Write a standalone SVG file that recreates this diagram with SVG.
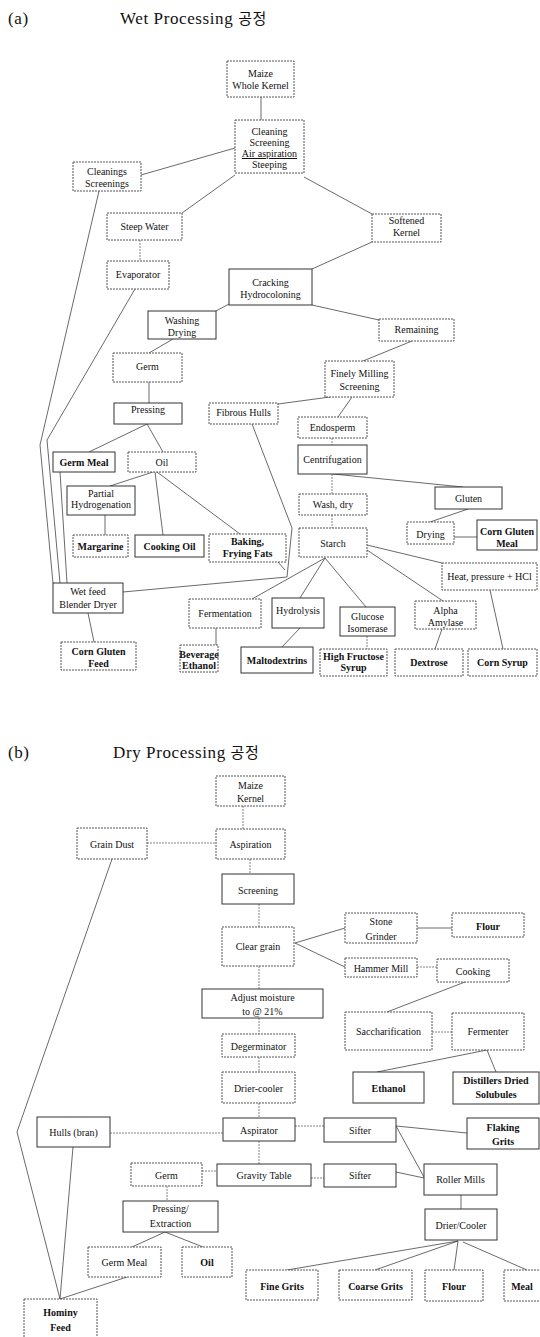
<svg xmlns="http://www.w3.org/2000/svg" width="540" height="1337" viewBox="0 0 540 1337">
<style>
.bx{fill:#fff;stroke:#555;stroke-width:1;stroke-dasharray:2 1}
.bs{fill:#fff;stroke:#333;stroke-width:1}
.t{font-family:"Liberation Serif","Times New Roman",serif;font-size:10px;fill:#111;text-anchor:middle}
.b{font-weight:bold}
.ttl{font-family:"Liberation Serif","Noto Sans CJK KR",serif;font-size:17px;fill:#111;letter-spacing:0.6px}
.ln{stroke:#444;stroke-width:0.8;fill:none}
.ld{stroke:#666;stroke-width:0.8;fill:none;stroke-dasharray:2 1}
</style>
<rect width="540" height="1337" fill="#fff"/>
<text class="ttl" x="8" y="24">(a)</text>
<text class="ttl" x="120" y="24">Wet Processing <tspan font-family="Noto Sans CJK KR, sans-serif" font-size="15">공정</tspan></text>
<text class="ttl" x="8" y="758">(b)</text>
<text class="ttl" x="113" y="758">Dry Processing <tspan font-family="Noto Sans CJK KR, sans-serif" font-size="15">공정</tspan></text>

<g id="connectors">
<line class="ln" x1="261" y1="97" x2="261" y2="120"/>
<line class="ln" x1="235" y1="148" x2="141" y2="175"/>
<line class="ln" x1="235" y1="175" x2="182" y2="213"/>
<line class="ln" x1="304" y1="177" x2="372" y2="214"/>
<line class="ld" x1="140" y1="240" x2="140" y2="261"/>
<line class="ln" x1="372" y1="242" x2="312" y2="269"/>
<line class="ln" x1="229" y1="304" x2="216" y2="311"/>
<line class="ln" x1="312" y1="305" x2="379" y2="320"/>
<line class="ln" x1="173" y1="339" x2="149" y2="353"/>
<line class="ln" x1="149" y1="382" x2="149" y2="403"/>
<line class="ln" x1="412" y1="341" x2="363" y2="361"/>
<line class="ln" x1="330" y1="397" x2="278" y2="404"/>
<line class="ln" x1="352" y1="397" x2="338" y2="417"/>
<line class="ld" x1="332" y1="438" x2="332" y2="445"/>
<line class="ld" x1="332" y1="474" x2="332" y2="494"/>
<line class="ln" x1="333" y1="474" x2="463" y2="487"/>
<line class="ln" x1="468" y1="509" x2="430" y2="522"/>
<line class="ln" x1="454" y1="537" x2="477" y2="537"/>
<line class="ld" x1="332" y1="515" x2="332" y2="528"/>
<line class="ln" x1="367" y1="545" x2="442" y2="563"/>
<line class="ln" x1="367" y1="550" x2="443" y2="601"/>
<line class="ln" x1="325" y1="558" x2="366" y2="607"/>
<line class="ln" x1="325" y1="558" x2="300" y2="598"/>
<line class="ln" x1="325" y1="558" x2="252" y2="599"/>
<line class="ld" x1="367" y1="636" x2="367" y2="649"/>
<line class="ln" x1="442" y1="629" x2="435" y2="649"/>
<line class="ln" x1="490" y1="590" x2="503" y2="649"/>
<line class="ln" x1="300" y1="628" x2="282" y2="647"/>
<line class="ln" x1="216" y1="628" x2="216" y2="645"/>
<line class="ln" x1="147" y1="424" x2="89" y2="452"/>
<line class="ln" x1="147" y1="424" x2="163" y2="452"/>
<line class="ln" x1="153" y1="472" x2="110" y2="486"/>
<line class="ln" x1="155" y1="472" x2="163" y2="535"/>
<line class="ln" x1="157" y1="472" x2="240" y2="534"/>
<line class="ln" x1="105" y1="515" x2="105" y2="535"/>
<polyline class="ln" points="252,424 292,528 287,577 123,592"/>
<line class="ln" x1="278" y1="562" x2="285" y2="570"/>
<polyline class="ln" points="99,191 40,445 53,583"/>
<polyline class="ln" points="135,289 47,440 60,583"/>
<line class="ln" x1="60" y1="472" x2="67" y2="583"/>
<line class="ln" x1="88" y1="613" x2="94" y2="642"/>

<line class="ld" x1="243" y1="806" x2="243" y2="829"/>
<line class="ld" x1="147" y1="843" x2="216" y2="843"/>
<line class="ld" x1="250" y1="859" x2="250" y2="874"/>
<line class="ld" x1="259" y1="904" x2="259" y2="927"/>
<line class="ld" x1="259" y1="966" x2="259" y2="989"/>
<line class="ld" x1="259" y1="1018" x2="259" y2="1034"/>
<line class="ld" x1="259" y1="1057" x2="259" y2="1072"/>
<line class="ln" x1="295" y1="943" x2="345" y2="928"/>
<line class="ln" x1="295" y1="943" x2="345" y2="967"/>
<line class="ln" x1="417" y1="928" x2="452" y2="928"/>
<line class="ld" x1="417" y1="967" x2="437" y2="967"/>
<line class="ln" x1="465" y1="982" x2="387" y2="1012"/>
<line class="ld" x1="432" y1="1032" x2="452" y2="1032"/>
<line class="ln" x1="487" y1="1050" x2="377" y2="1072"/>
<line class="ln" x1="487" y1="1050" x2="496" y2="1072"/>
<line class="ld" x1="110" y1="1133" x2="223" y2="1133"/>
<line class="ld" x1="259" y1="1103" x2="259" y2="1118"/>
<line class="ld" x1="295" y1="1126" x2="324" y2="1126"/>
<line class="ln" x1="396" y1="1126" x2="467" y2="1133"/>
<line class="ld" x1="259" y1="1141" x2="259" y2="1164"/>
<line class="ld" x1="202" y1="1171" x2="217" y2="1171"/>
<line class="ld" x1="311" y1="1178" x2="324" y2="1178"/>
<line class="ln" x1="396" y1="1126" x2="424" y2="1177"/>
<line class="ln" x1="396" y1="1172" x2="424" y2="1178"/>
<line class="ln" x1="461" y1="1195" x2="461" y2="1209"/>
<line class="ln" x1="458" y1="1241" x2="287" y2="1270"/>
<line class="ln" x1="458" y1="1241" x2="375" y2="1270"/>
<line class="ln" x1="458" y1="1241" x2="454" y2="1270"/>
<line class="ln" x1="463" y1="1242" x2="527" y2="1270"/>
<line class="ld" x1="167" y1="1186" x2="167" y2="1201"/>
<line class="ln" x1="165" y1="1232" x2="132" y2="1247"/>
<line class="ln" x1="165" y1="1232" x2="203" y2="1247"/>
<line class="ln" x1="127" y1="1277" x2="60" y2="1299"/>
<line class="ln" x1="73" y1="1147" x2="60" y2="1299"/>
<polyline class="ln" points="112,859 17,1132 60,1299"/>
</g>

<g id="n-maize-whole"><rect class="bx" x="227" y="61" width="67" height="36"/><text class="t" x="260.5" y="77">Maize</text><text class="t" x="260.5" y="89">Whole Kernel</text></g>
<g id="n-cleaning"><rect class="bx" x="235" y="120" width="69" height="53"/><text class="t" x="269.5" y="135">Cleaning</text><text class="t" x="269.5" y="146">Screening</text><text class="t" x="269.5" y="157" text-decoration="underline">Air aspiration</text><text class="t" x="269.5" y="168">Steeping</text></g>
<g id="n-cleanings"><rect class="bx" x="73" y="162" width="68" height="29"/><text class="t" x="107" y="175">Cleanings</text><text class="t" x="107" y="187">Screenings</text></g>
<g id="n-steep"><rect class="bx" x="107" y="213" width="75" height="27"/><text class="t" x="144.5" y="230">Steep Water</text></g>
<g id="n-evap"><rect class="bx" x="107" y="261" width="62" height="28"/><text class="t" x="138" y="278">Evaporator</text></g>
<g id="n-softened"><rect class="bx" x="372" y="214" width="69" height="28"/><text class="t" x="406.5" y="224">Softened</text><text class="t" x="406.5" y="236">Kernel</text></g>
<g id="n-cracking"><rect class="bs" x="229" y="269" width="83" height="36"/><text class="t" x="270.5" y="286">Cracking</text><text class="t" x="270.5" y="298">Hydrocoloning</text></g>
<g id="n-washing"><rect class="bs" x="148" y="311" width="68" height="28"/><text class="t" x="182" y="324">Washing</text><text class="t" x="182" y="335.5">Drying</text></g>
<g id="n-remaining"><rect class="bx" x="379" y="319" width="75" height="22"/><text class="t" x="416.5" y="333">Remaining</text></g>
<g id="n-germ-a"><rect class="bx" x="113" y="353" width="69" height="29"/><text class="t" x="147.5" y="370">Germ</text></g>
<g id="n-pressing-a"><rect class="bs" x="114" y="403" width="68" height="21"/><text class="t" x="148" y="412.5">Pressing</text></g>
<g id="n-fibrous"><rect class="bx" x="209" y="403" width="69" height="21"/><text class="t" x="243.5" y="416">Fibrous Hulls</text></g>
<g id="n-finely"><rect class="bx" x="325" y="361" width="69" height="36"/><text class="t" x="359.5" y="376.5">Finely Milling</text><text class="t" x="359.5" y="389.5">Screening</text></g>
<g id="n-endosperm"><rect class="bx" x="298" y="417" width="69" height="21"/><text class="t" x="332.5" y="430.5">Endosperm</text></g>
<g id="n-centrif"><rect class="bs" x="298" y="445" width="69" height="29"/><text class="t" x="332.5" y="462.5">Centrifugation</text></g>
<g id="n-washdry"><rect class="bx" x="299" y="494" width="68" height="21"/><text class="t" x="333" y="507.5">Wash, dry</text></g>
<g id="n-gluten"><rect class="bs" x="435" y="487" width="67" height="22"/><text class="t" x="468.5" y="501.5">Gluten</text></g>
<g id="n-drying"><rect class="bx" x="407" y="522" width="47" height="22"/><text class="t" x="430.5" y="538">Drying</text></g>
<g id="n-cgm"><rect class="bs" x="477" y="520" width="60" height="30"/><text class="t b" x="507" y="535" font-size="9.5">Corn Gluten</text><text class="t b" x="507" y="547" font-size="9.5">Meal</text></g>
<g id="n-starch"><rect class="bx" x="299" y="528" width="68" height="29"/><text class="t" x="333" y="546.5">Starch</text></g>
<g id="n-germmeal-a"><rect class="bs" x="53" y="452" width="62" height="20"/><text class="t b" x="84" y="465.5" font-size="9.5">Germ Meal</text></g>
<g id="n-oil-a"><rect class="bx" x="128" y="452" width="68" height="20"/><text class="t" x="162" y="465.5">Oil</text></g>
<g id="n-partial"><rect class="bs" x="67" y="486" width="68" height="29"/><text class="t" x="101" y="496.5">Partial</text><text class="t" x="101" y="508">Hydrogenation</text></g>
<g id="n-margarine"><rect class="bx" x="73" y="535" width="55" height="22"/><text class="t b" x="100.5" y="549.5" font-size="9.5">Margarine</text></g>
<g id="n-cookingoil"><rect class="bs" x="135" y="535" width="69" height="22"/><text class="t b" x="169.5" y="549.5">Cooking Oil</text></g>
<g id="n-baking"><rect class="bx" x="209" y="534" width="77" height="28"/><text class="t b" x="247.5" y="545">Baking,</text><text class="t b" x="247.5" y="556.5">Frying Fats</text></g>
<g id="n-heat"><rect class="bx" x="442" y="563" width="95" height="27"/><text class="t" x="489.5" y="580">Heat, pressure + HCl</text></g>
<g id="n-wetfeed"><rect class="bs" x="53" y="583" width="70" height="30"/><text class="t" x="88" y="595">Wet feed</text><text class="t" x="88" y="607.5">Blender Dryer</text></g>
<g id="n-ferment-a"><rect class="bx" x="189" y="599" width="72" height="29"/><text class="t" x="225" y="616.5">Fermentation</text></g>
<g id="n-hydrolysis"><rect class="bs" x="272" y="598" width="52" height="30"/><text class="t" x="298" y="613.5">Hydrolysis</text></g>
<g id="n-glucose"><rect class="bs" x="340" y="607" width="55" height="29"/><text class="t" x="367.5" y="619.5">Glucose</text><text class="t" x="367.5" y="632">Isomerase</text></g>
<g id="n-alpha"><rect class="bx" x="415" y="601" width="61" height="28"/><text class="t" x="445.5" y="613.5">Alpha</text><text class="t" x="445.5" y="625.5">Amylase</text></g>
<g id="n-cgf"><rect class="bx" x="61" y="642" width="75" height="28"/><text class="t b" x="98.5" y="655">Corn Gluten</text><text class="t b" x="98.5" y="666.5">Feed</text></g>
<g id="n-beverage"><rect class="bx" x="180" y="645" width="38" height="27"/><text class="t b" x="199" y="657.5" font-size="7.5">Beverage</text><text class="t b" x="199" y="668.5" font-size="7.5">Ethanol</text></g>
<g id="n-malto"><rect class="bs" x="241" y="647" width="72" height="26"/><text class="t b" x="277" y="663.5" font-size="9.5">Maltodextrins</text></g>
<g id="n-hfs"><rect class="bx" x="320" y="649" width="67" height="27"/><text class="t b" x="353.5" y="660" font-size="9.5">High Fructose</text><text class="t b" x="353.5" y="671" font-size="9.5">Syrup</text></g>
<g id="n-dextrose"><rect class="bx" x="395" y="649" width="68" height="27"/><text class="t b" x="429" y="666">Dextrose</text></g>
<g id="n-cornsyrup"><rect class="bx" x="468" y="649" width="69" height="27"/><text class="t b" x="502.5" y="666">Corn Syrup</text></g>

<g id="n-maize-kernel"><rect class="bx" x="216" y="776" width="69" height="30"/><text class="t" x="250.5" y="788.5">Maize</text><text class="t" x="250.5" y="802">Kernel</text></g>
<g id="n-aspiration"><rect class="bx" x="216" y="829" width="69" height="30"/><text class="t" x="250.5" y="847.5">Aspiration</text></g>
<g id="n-graindust"><rect class="bx" x="77" y="828" width="70" height="31"/><text class="t" x="112" y="847.5">Grain Dust</text></g>
<g id="n-screening"><rect class="bs" x="222" y="874" width="72" height="30"/><text class="t" x="258" y="894">Screening</text></g>
<g id="n-cleargrain"><rect class="bx" x="222" y="927" width="72" height="39"/><text class="t" x="258" y="950">Clear grain</text></g>
<g id="n-adjust"><rect class="bs" x="202" y="989" width="121" height="29"/><text class="t" x="262.5" y="1001">Adjust moisture</text><text class="t" x="262.5" y="1015">to @ 21%</text></g>
<g id="n-degerm"><rect class="bx" x="222" y="1034" width="73" height="23"/><text class="t" x="258.5" y="1050">Degerminator</text></g>
<g id="n-driercooler"><rect class="bx" x="222" y="1072" width="73" height="31"/><text class="t" x="258.5" y="1091.5">Drier-cooler</text></g>
<g id="n-stone"><rect class="bx" x="345" y="913" width="72" height="30"/><text class="t" x="381" y="925">Stone</text><text class="t" x="381" y="939.5">Grinder</text></g>
<g id="n-flour-top"><rect class="bx" x="452" y="913" width="72" height="24"/><text class="t b" x="488" y="929.5">Flour</text></g>
<g id="n-hammer"><rect class="bx" x="345" y="958" width="72" height="19"/><text class="t" x="381" y="971.5">Hammer Mill</text></g>
<g id="n-cooking"><rect class="bx" x="437" y="959" width="72" height="23"/><text class="t" x="473" y="974.5">Cooking</text></g>
<g id="n-sacch"><rect class="bx" x="345" y="1012" width="87" height="38"/><text class="t" x="388.5" y="1035">Saccharification</text></g>
<g id="n-fermenter"><rect class="bx" x="452" y="1013" width="72" height="37"/><text class="t" x="488" y="1035">Fermenter</text></g>
<g id="n-ethanol"><rect class="bs" x="353" y="1072" width="71" height="31"/><text class="t b" x="388.5" y="1091.5">Ethanol</text></g>
<g id="n-ddgs"><rect class="bs" x="453" y="1072" width="86" height="32"/><text class="t b" x="496" y="1084" font-size="9.5">Distillers Dried</text><text class="t b" x="496" y="1097.5" font-size="9.5">Solubules</text></g>
<g id="n-hulls"><rect class="bs" x="37" y="1117" width="73" height="30"/><text class="t" x="73.5" y="1136">Hulls (bran)</text></g>
<g id="n-aspirator"><rect class="bs" x="223" y="1118" width="72" height="23"/><text class="t" x="259" y="1133.5">Aspirator</text></g>
<g id="n-sifter1"><rect class="bs" x="324" y="1118" width="72" height="24"/><text class="t" x="360" y="1134">Sifter</text></g>
<g id="n-flaking"><rect class="bs" x="467" y="1118" width="72" height="31"/><text class="t b" x="503" y="1130.5">Flaking</text><text class="t b" x="503" y="1144.5">Grits</text></g>
<g id="n-germ-b"><rect class="bx" x="131" y="1163" width="71" height="23"/><text class="t" x="166.5" y="1179">Germ</text></g>
<g id="n-gravity"><rect class="bs" x="217" y="1164" width="94" height="22"/><text class="t" x="264" y="1179">Gravity Table</text></g>
<g id="n-sifter2"><rect class="bs" x="324" y="1164" width="72" height="23"/><text class="t" x="360" y="1179">Sifter</text></g>
<g id="n-roller"><rect class="bs" x="424" y="1164" width="73" height="31"/><text class="t" x="460.5" y="1182.5">Roller Mills</text></g>
<g id="n-driercooler2"><rect class="bs" x="425" y="1209" width="72" height="31"/><text class="t" x="461" y="1228.5">Drier/Cooler</text></g>
<g id="n-pressing-b"><rect class="bs" x="123" y="1201" width="95" height="31"/><text class="t" x="170.5" y="1211.5">Pressing/</text><text class="t" x="170.5" y="1227">Extraction</text></g>
<g id="n-germmeal-b"><rect class="bx" x="88" y="1247" width="73" height="30"/><text class="t" x="124.5" y="1266">Germ Meal</text></g>
<g id="n-oil-b"><rect class="bx" x="182" y="1247" width="50" height="30"/><text class="t b" x="207" y="1266">Oil</text></g>
<g id="n-finegrits"><rect class="bx" x="246" y="1270" width="72" height="30"/><text class="t b" x="282" y="1290">Fine Grits</text></g>
<g id="n-coarse"><rect class="bx" x="339" y="1270" width="73" height="30"/><text class="t b" x="375.5" y="1290">Coarse Grits</text></g>
<g id="n-flour-b"><rect class="bx" x="425" y="1270" width="58" height="31"/><text class="t b" x="454" y="1290">Flour</text></g>
<g id="n-meal"><rect class="bx" x="504" y="1270" width="44" height="31"/><text class="t b" x="522" y="1290">Meal</text></g>
<g id="n-hominy"><rect class="bx" x="24" y="1299" width="73" height="42"/><text class="t b" x="60.5" y="1315.5">Hominy</text><text class="t b" x="60.5" y="1331">Feed</text></g>
</svg>
